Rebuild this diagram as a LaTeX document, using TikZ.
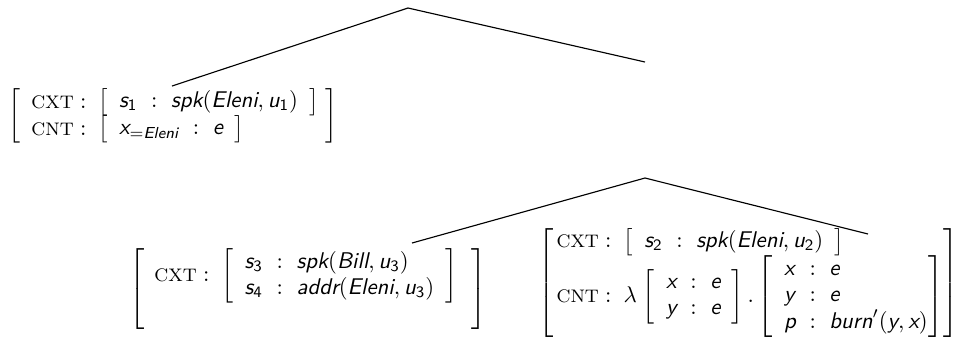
\documentclass[tikz,border=0pt]{standalone}
\usepackage{amsmath}
\newcommand{\V}[1]{\textsf{\itshape #1}}
\newcommand{\D}[1]{\mathsf{#1}}
\newcommand{\lbl}[1]{\text{\footnotesize #1}\mathrel{:}\hspace{2.5pt}}
\newenvironment{rec}{\begin{array}{@{\hspace{5pt}}l@{\hspace{6pt}}c@{\hspace{6pt}}l@{\hspace{5pt}}}}{\end{array}}
\newenvironment{recb}{\begin{array}{@{\hspace{5pt}}l@{\hspace{6pt}}c@{\hspace{6pt}}l@{\hspace{0.5pt}}}}{\end{array}}
\begin{document}
\begin{tikzpicture}[x=0.44pt,y=-0.44pt,
  avm/.style={inner sep=0pt, outer sep=0pt, anchor=west},
  branch/.style={draw=black, line width=0.5pt}]
\useasboundingbox (0,0) rectangle (955,338);
\renewcommand{\arraystretch}{0.95}
% top tree
\coordinate (r1) at (408,8);
\coordinate (r1e) at (645,62);
\node[avm] (a1) at (8,116) {$\left[\begin{array}{@{\hspace{5pt}}l@{\hspace{3pt}}}
  \lbl{CXT}\left[\begin{rec} \V{s}_{\D{1}} & : & \V{spk}(\V{Eleni},\V{u}_{\D{1}})\end{rec}\right]\\
  \lbl{CNT}\left[\begin{rec} \V{x}_{=\V{Eleni}} & : & \V{e}\end{rec}\right]
  \end{array}\right]$};
\coordinate (a1t) at (172,86);
\draw[branch] (a1t) -- (r1) -- (r1e);
% second tree
\coordinate (r2) at (645,178);
\coordinate (e2l) at (412,243);
\coordinate (e2r) at (868,234);
\node[avm] (a2) at (129,289) {$\left[\begin{array}{@{\hspace{4.5pt}}l@{\hspace{6pt}}}
  \lbl{CXT}\left[\begin{rec} \V{s}_{\D{3}} & : & \V{spk}(\V{Bill},\V{u}_{\D{3}})\\
  \V{s}_{\D{4}} & : & \V{addr}(\V{Eleni},\V{u}_{\D{3}})\end{rec}\right]\\
  \mbox{}
  \end{array}\right]$};
\node[avm] (a3) at (538,283) {$\left[\begin{array}{@{\hspace{1.5pt}}l@{\hspace{0pt}}}
  \lbl{CXT}\left[\begin{rec} \V{s}_{\D{2}} & : & \V{spk}(\V{Eleni},\V{u}_{\D{2}})\end{rec}\right]\\
  \lbl{CNT}\lambda\hspace{1pt}\left[\begin{rec} \V{x} & : & \V{e}\\ \V{y} & : & \V{e}\end{rec}\right].
  \left[\begin{recb} \V{x} & : & \V{e}\\ \V{y} & : & \V{e}\\ \V{p} & : & \V{burn}'(\V{y},\V{x})\end{recb}\right]
  \end{array}\right]$};
\draw[branch] (e2l) -- (r2) -- (e2r);
\end{tikzpicture}
\end{document}
